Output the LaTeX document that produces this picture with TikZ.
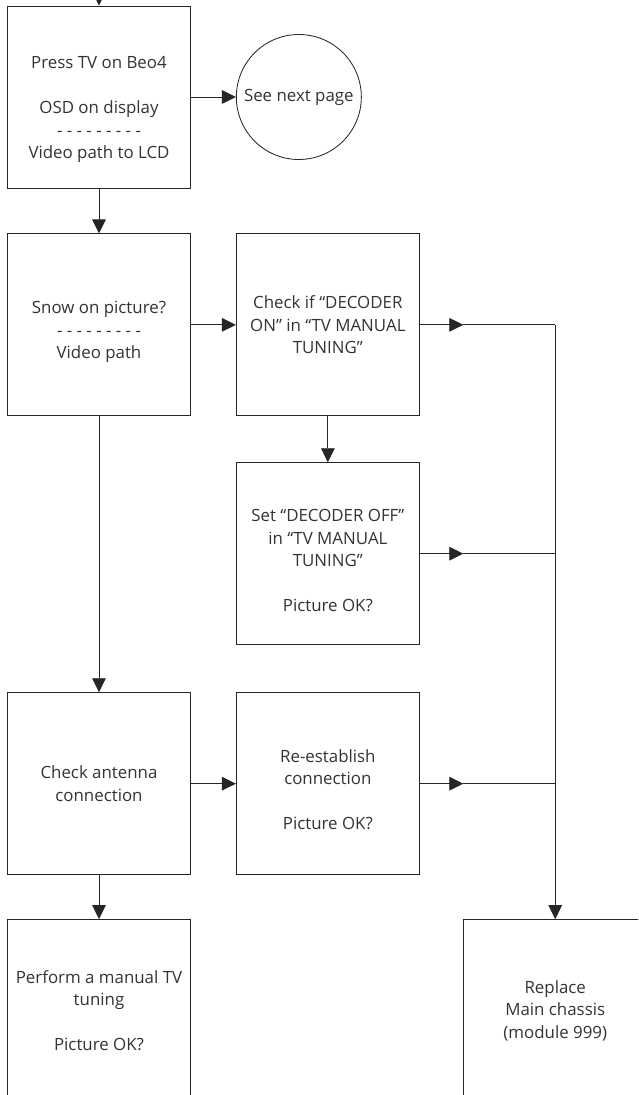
\documentclass[tikz,border=0pt]{standalone}
\usepackage{fontspec}
\setmainfont{Open Sans}
\usetikzlibrary{arrows.meta,positioning}

\begin{document}
\begin{tikzpicture}[
    node distance=11.25mm,
    box/.style={draw=black!85, line width=0.6pt, align=center, text=black!80,
                font=\fontsize{12}{16}\selectfont, minimum width=45.75mm,
                minimum height=45.5mm, inner sep=2pt},
    pagecirc/.style={box, circle, minimum size=31.25mm},
    arr/.style={draw=black!85, line width=0.6pt, -{Triangle[length=3.5mm,width=3.4mm]}},
    wire/.style={draw=black!85, line width=0.6pt}
]
\useasboundingbox (-24.75mm,24.25mm) rectangle (134.75mm,-249.5mm);
\clip (-24.75mm,24.25mm) rectangle (134.75mm,-249.5mm);

\node[box, text height=91pt] (press) at (0,0) {Press TV on Beo4\\[16pt] OSD on display\\ - - - - - - - - -\\ Video path to LCD};
\node[pagecirc, right=of press] (nextpage) {See next page};
\node[box, below=of press, text height=51pt] (snow) {Snow on picture?\\ - - - - - - - - -\\ Video path};
\node[box, right=of snow] (decon) {Check if “DECODER\\ ON” in “TV MANUAL\\ TUNING”};
\node[box, below=11.5mm of decon, text height=83pt] (decoff) {Set “DECODER OFF”\\ in “TV MANUAL\\ TUNING”\\[16pt] Picture OK?};
\node[box, below=69mm of snow] (antenna) {Check antenna\\ connection};
\node[box, right=of antenna, text height=66pt] (reest) {Re-establish\\ connection\\[16pt] Picture OK?};
\node[box, below=11mm of antenna] (tuning) {Perform a manual TV\\ tuning\\[16pt] Picture OK?};
\node[box, right=68.1mm of tuning] (chassis) {Replace\\ Main chassis\\ (module 999)};

\coordinate (entry) at ([yshift=10mm]press.north);
\coordinate (j1) at (decon.east -| chassis.north);
\coordinate (j2) at (decoff.east -| chassis.north);
\coordinate (j3) at (reest.east -| chassis.north);

\draw[arr] (entry) -- (press);
\draw[arr] (press) -- (nextpage);
\draw[arr] (press) -- (snow);
\draw[arr] (snow) -- (decon);
\draw[arr] (decon) -- (decoff);
\draw[arr] (snow) -- (antenna);
\draw[arr] (antenna) -- (reest);
\draw[arr] (antenna) -- (tuning);

% outputs to the right-hand line
\draw[arr] (decon.east) -- (decon.east -| chassis.west);
\draw[wire] (decon.east -| chassis.west) -- (j1);
\draw[arr] (decoff.east) -- (decoff.east -| chassis.west);
\draw[wire] (decoff.east -| chassis.west) -- (j2);
\draw[arr] (reest.east) -- (reest.east -| chassis.west);
\draw[wire] (reest.east -| chassis.west) -- (j3);
\draw[arr] (j1) -- (chassis);
\end{tikzpicture}
\end{document}
